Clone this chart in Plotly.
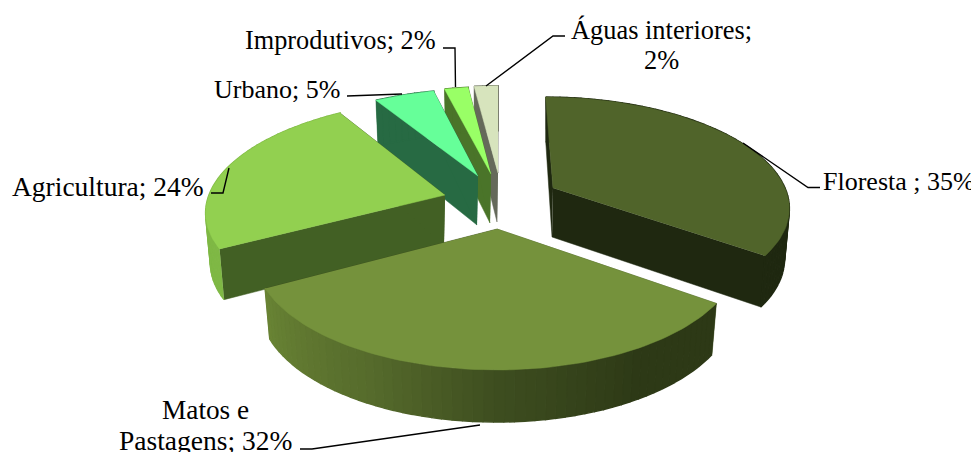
import numpy as np
import plotly.graph_objects as go

# shares, clockwise from 12 o'clock
categories = ['Floresta', 'Matos e Pastagens', 'Agricultura', 'Urbano', 'Improdutivos', 'Águas interiores']
shares = [35, 32, 24, 5, 2, 2]

top_colors = ['#50642A', '#75923C', '#92D050', '#66FF99', '#99FF66', '#D7E4BD']
cut_colors = ['#1F2810', '#3F5020', '#426024', '#276A43', '#4A7429', '#65695A']
wall_stops = [
    [(0, (31, 40, 16)), (360, (31, 40, 16))],
    [(126, (46, 58, 22)), (150, (45, 57, 22)), (180, (62, 78, 32)), (205, (86, 107, 44)), (242, (106, 133, 53))],
    [(0, (127, 184, 69)), (360, (127, 184, 69))],
    [(0, (39, 106, 67)), (360, (39, 106, 67))],
    [(0, (74, 116, 41)), (360, (74, 116, 41))],
    [(0, (101, 105, 90)), (360, (101, 105, 90))],
]

# apex of each exploded slice in page pixels, and its projection settings
apex_x = [553, 497, 445, 478, 491, 498]
apex_y = [188, 229, 195, 176, 174, 173]
radius_x = [232, 237, 236, 232, 232, 232]
radius_y = [105, 110.6, 106, 106, 106, 106]
persp = [0.155, 0.2155, 0.109, 0.2155, 0.2155, 0.2155]
vanish_x = [498, 498, 574, 498, 498, 498]
DEPTH = 49
PAGE_MARGIN = 8  # the page body keeps its default margin

fig = go.Figure()


def project(i, theta, down=False):
    t = np.radians(theta)
    s = 1 / (1 + persp[i] * np.cos(t))
    x = radius_x[i] * np.sin(t) * s + (apex_x[i] - vanish_x[i]) * (s - 1)
    y = -radius_y[i] * np.cos(t) * s
    if down:
        return apex_x[i] + x * 0.98, apex_y[i] + y * 0.98 + DEPTH * (1 - 0.12 * np.cos(t))
    return apex_x[i] + x, apex_y[i] + y


def apex_down(i):
    return apex_x[i] - 1, apex_y[i] + DEPTH


def poly(xs, ys, color, width=0.5):
    fig.add_trace(go.Scatter(x=list(xs), y=list(ys), mode='lines', fill='toself', fillcolor=color,
                             line=dict(color=color, width=width), hoverinfo='skip', showlegend=False))


def wall_color(i, theta):
    stops = wall_stops[i]
    ts = [p[0] for p in stops]
    rgb = [np.interp(theta, ts, [p[1][c] for p in stops]) for c in range(3)]
    return 'rgb(%d,%d,%d)' % tuple(rgb)


def draw_slice(i, start, end):
    # two cut faces, then the outer wall in strips, then the top
    for theta in (start, end):
        ex, ey = project(i, theta)
        bx, by = project(i, theta, down=True)
        dx, dy = apex_down(i)
        poly([apex_x[i], ex, bx, dx], [apex_y[i], ey, by, dy], cut_colors[i])
    steps = np.linspace(start, end, max(int((end - start) / 2), 2) + 1)
    for a, b in zip(steps[:-1], steps[1:]):
        ax_, ay_ = project(i, a)
        bx_, by_ = project(i, b)
        cx_, cy_ = project(i, b, down=True)
        dx_, dy_ = project(i, a, down=True)
        poly([ax_, bx_, cx_, dx_], [ay_, by_, cy_, dy_], wall_color(i, (a + b) / 2), width=1.5)
    arc = np.linspace(start, end, 80)
    pts = [project(i, th) for th in arc]
    poly([apex_x[i]] + [p[0] for p in pts], [apex_y[i]] + [p[1] for p in pts], top_colors[i])


edges = np.cumsum([0] + shares) * 3.6
# painted back to front
for i in [0, 5, 4, 3, 2, 1]:
    draw_slice(i, edges[i], edges[i + 1])

leaders = [
    ([743, 808, 820], [143, 187.5, 187.5]),
    ([480, 312, 300], [425, 449, 449]),
    ([229, 223, 211], [168, 193, 193]),
    ([402, 360, 347], [94, 96, 96]),
    ([455.5, 455, 443], [87, 48, 48]),
    ([486, 553, 565], [86, 36, 36]),
]
for lx, ly in leaders:
    fig.add_trace(go.Scatter(x=lx, y=ly, mode='lines', line=dict(color='black', width=1.4),
                             hoverinfo='skip', showlegend=False))

labels = [
    ('Floresta ; 35%', 821, 181, 'left', 26),
    ('Matos e', 205, 410, 'center', 27.3),
    ('Pastagens; 32%', 205, 440, 'center', 27.5),
    ('Agricultura; 24%', 206, 186, 'right', 27.5),
    ('Urbano; 5%', 342, 89, 'right', 26),
    ('Improdutivos; 2%', 438, 40, 'right', 26.3),
    ('Águas interiores;', 661, 30, 'center', 26.4),
    ('2%', 661, 60, 'center', 26.4),
]
for text, x, y, anchor, size in labels:
    fig.add_annotation(x=x, y=y, text=text, showarrow=False, xanchor=anchor, yanchor='middle',
                       font=dict(family='Liberation Serif', size=size, color='black'))

fig.update_xaxes(range=[PAGE_MARGIN, 979], visible=False)
fig.update_yaxes(range=[452, PAGE_MARGIN], visible=False)
fig.update_layout(width=979 - PAGE_MARGIN, height=452 - PAGE_MARGIN, margin=dict(l=0, r=0, t=0, b=0),
                  paper_bgcolor='white', plot_bgcolor='white', showlegend=False)
fig.write_html("out.html")
